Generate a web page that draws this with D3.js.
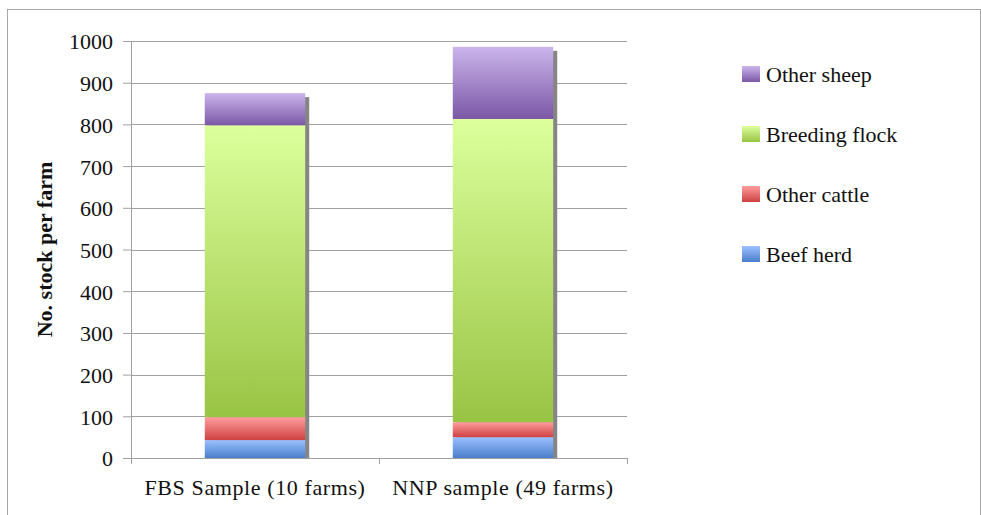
<!DOCTYPE html>
<html>
<head>
<meta charset="utf-8">
<script src="https://cdn.jsdelivr.net/npm/d3@7"></script>
<style>
  html, body { margin: 0; padding: 0; background: #fff; }
  svg { display: block; }
  svg text { font-family: "Liberation Serif", "Times New Roman", serif !important; fill: #111; }
</style>
</head>
<body>
<div id="chart"></div>
<script>
// Livestock numbers per farm, stacked by stock type
const categories = ["FBS Sample (10 farms)", "NNP sample (49 farms)"];
const seriesNames = ["Beef herd", "Other cattle", "Breeding flock", "Other sheep"];
const beefHerd = [43, 50];
const otherCattle = [55, 36];
const breedingFlock = [700, 727];
const otherSheep = [77, 173];
const yTicks = [0, 100, 200, 300, 400, 500, 600, 700, 800, 900, 1000];

const seriesValues = [beefHerd, otherCattle, breedingFlock, otherSheep];
const rows = categories.map((c, i) => {
  const r = { category: c };
  seriesNames.forEach((s, j) => { r[s] = seriesValues[j][i]; });
  return r;
});

const SERIF = "'Liberation Serif', 'Times New Roman', serif";
const W = 981, H = 515;
const margin = { left: 131, right: 354, top: 41, bottom: 57 };
const plotW = W - margin.left - margin.right;
const plotH = H - margin.top - margin.bottom;

const svg = d3.select("#chart").append("svg")
  .attr("width", W).attr("height", H)
  .attr("font-family", SERIF);

// gradient fills, light at the top and darker at the bottom
const grads = {
  "Other sheep":    ["#cbb5ec", "#7b58a6"],
  "Breeding flock": ["#dcff9c", "#98c444"],
  "Other cattle":   ["#ff9e9e", "#cf4141"],
  "Beef herd":      ["#9cc0ff", "#4a7fcc"]
};
const defs = svg.append("defs");
seriesNames.forEach((s, i) => {
  const g = defs.append("linearGradient")
    .attr("id", "grad" + i).attr("x1", 0).attr("y1", 0).attr("x2", 0).attr("y2", 1);
  g.append("stop").attr("offset", "0%").attr("stop-color", grads[s][0]);
  g.append("stop").attr("offset", "100%").attr("stop-color", grads[s][1]);
});

// outer frame
svg.append("rect")
  .attr("x", 7.5).attr("y", 9.5).attr("width", W - 8).attr("height", H)
  .attr("fill", "none").attr("stroke", "#a6a6a6").attr("stroke-width", 1);

const g = svg.append("g").attr("transform", `translate(${margin.left},${margin.top})`);

const x = d3.scaleBand().domain(categories).range([0, plotW]).paddingInner(0).paddingOuter(0);
const y = d3.scaleLinear().domain([0, 1000]).range([plotH, 0]);

// horizontal gridlines
g.append("g").selectAll("line").data(yTicks.filter(t => t > 0)).join("line")
  .attr("x1", 0).attr("x2", plotW)
  .attr("y1", d => Math.round(y(d)) + 0.5).attr("y2", d => Math.round(y(d)) + 0.5)
  .attr("stroke", "#a0a0a0").attr("stroke-width", 1);

// y axis
const yAxis = g.append("g")
  .call(d3.axisLeft(y).tickValues(yTicks).tickSize(8).tickPadding(10).tickFormat(d3.format("d")));
yAxis.attr("font-family", SERIF).attr("font-size", 22);
yAxis.select(".domain").attr("stroke", "#a0a0a0");
yAxis.selectAll(".tick line").attr("stroke", "#a0a0a0");
yAxis.selectAll("text").attr("fill", "#111").attr("dy", "0.36em");

const stack = d3.stack().keys(seriesNames);
const stacked = stack(rows);

const barW = x.bandwidth() * 0.405;
const barOff = (x.bandwidth() - barW) / 2;

// drop shadow behind each full bar
g.append("g").selectAll("rect").data(rows).join("rect")
  .attr("x", d => x(d.category) + barOff + 4)
  .attr("y", d => y(d3.sum(seriesNames, s => d[s])) + 4)
  .attr("width", barW)
  .attr("height", d => plotH - y(d3.sum(seriesNames, s => d[s])) - 4)
  .attr("fill", "#858585");

// stacked segments
g.append("g").selectAll("g").data(stacked).join("g")
  .attr("fill", (d, i) => `url(#grad${i})`)
  .selectAll("rect").data(d => d).join("rect")
  .attr("x", d => x(d.data.category) + barOff)
  .attr("y", d => y(d[1]))
  .attr("width", barW)
  .attr("height", d => y(d[0]) - y(d[1]));

// x axis
const xAxis = g.append("g").attr("transform", `translate(0,${plotH})`);
xAxis.append("line").attr("x1", 0).attr("x2", plotW).attr("y1", 0.5).attr("y2", 0.5)
  .attr("stroke", "#a0a0a0");
[0, x.bandwidth(), plotW].forEach(px => {
  xAxis.append("line").attr("x1", Math.round(px) + 0.5).attr("x2", Math.round(px) + 0.5)
    .attr("y1", 0).attr("y2", 6).attr("stroke", "#a0a0a0");
});
xAxis.selectAll("text.cat").data(categories).join("text")
  .attr("class", "cat")
  .attr("x", d => x(d) + x.bandwidth() / 2)
  .attr("y", 37)
  .attr("text-anchor", "middle")
  .attr("font-size", 22)
  .attr("letter-spacing", 0.6)
  .text(d => d);

// y axis title
svg.append("text")
  .attr("transform", `translate(52,${margin.top + plotH / 2}) rotate(-90)`)
  .attr("text-anchor", "middle")
  .attr("font-size", 22)
  .attr("font-weight", "bold")
  .text("No. stock per farm");

// legend, top entry is the top segment
const legendOrder = seriesNames.slice().reverse();
const lg = svg.append("g").attr("transform", "translate(742,66)");
legendOrder.forEach((s, i) => {
  const idx = seriesNames.indexOf(s);
  const row = lg.append("g").attr("transform", `translate(0,${i * 60})`);
  row.append("rect").attr("width", 18).attr("height", 16).attr("fill", `url(#grad${idx})`);
  row.append("text").attr("x", 24).attr("y", 16).attr("font-size", 22).text(s);
});
</script>
</body>
</html>
